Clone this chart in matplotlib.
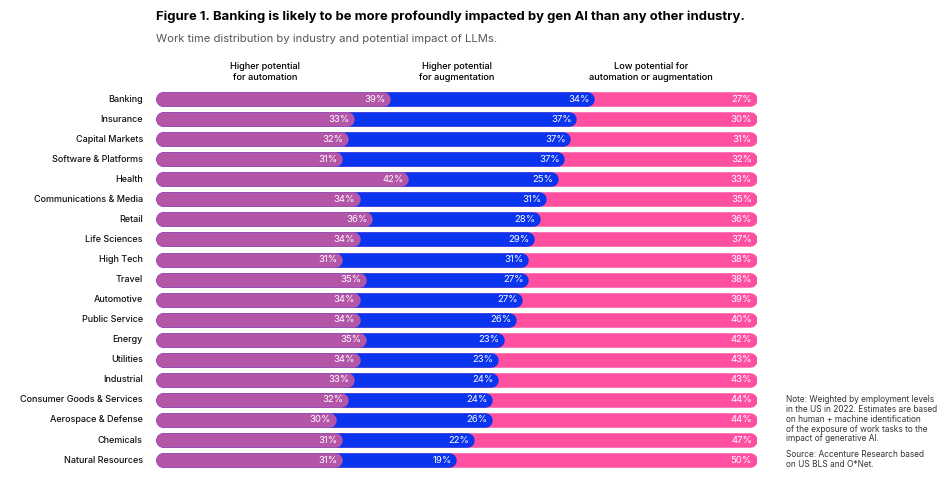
import matplotlib
matplotlib.use("Agg")
import matplotlib.pyplot as plt

plt.rcParams['font.family'] = ['Inter', 'DejaVu Sans']

industries = ["Banking", "Insurance", "Capital Markets", "Software & Platforms", "Health",
              "Communications & Media", "Retail", "Life Sciences", "High Tech", "Travel",
              "Automotive", "Public Service", "Energy", "Utilities", "Industrial",
              "Consumer Goods & Services", "Aerospace & Defense", "Chemicals", "Natural Resources"]
automation = [39, 33, 32, 31, 42, 34, 36, 34, 31, 35, 34, 34, 35, 34, 33, 32, 30, 31, 31]
augmentation = [34, 37, 37, 37, 25, 31, 28, 29, 31, 27, 27, 26, 23, 23, 24, 24, 26, 22, 19]
low_potential = [27, 30, 31, 32, 33, 35, 36, 37, 38, 38, 39, 40, 42, 43, 43, 44, 44, 47, 50]
headers = ["Higher potential\nfor automation", "Higher potential\nfor augmentation",
           "Low potential for\nautomation or augmentation"]

purple = "#B456A8"
blue = "#0A34EE"
pink = "#FF4FA0"

W, H = 944, 484
fig = plt.figure(figsize=(W / 100, H / 100), dpi=100)
x0_px, x1_px = 156, 757
top_px, step = 89, 20.06
n = len(industries)
ax = fig.add_axes([x0_px / W, (H - top_px - n * step) / H, (x1_px - x0_px) / W, n * step / H])
ax.set_xlim(0, 100)
ax.set_ylim(n - 0.5, -0.5)
ax.axis("off")

bar_px = 14.5
lw = bar_px * 72 / 100
r = (bar_px / 2) / (x1_px - x0_px) * 100  # cap radius in data units
pad = 5 / (x1_px - x0_px) * 100


def rbar(y, end, color, z):
    ax.plot([r, end - r], [y, y], color=color, lw=lw, solid_capstyle="round", zorder=z)


for i in range(n):
    a, b, c = automation[i], augmentation[i], low_potential[i]
    rbar(i, a + b + c, pink, 1)
    rbar(i, a + b, blue, 2)
    rbar(i, a, purple, 3)
    for end, v in [(a, a), (a + b, b), (a + b + c, c)]:
        ax.text(end - pad, i, f"{v}%", color="white", fontsize=6.9, ha="right", va="center",
                zorder=5)
    ax.text(-2.2, i, industries[i], fontsize=6.5, ha="right", va="center", fontweight="medium",
            color="#111111")

for xc, h in zip([18.2, 50.1, 82.4], headers):
    ax.text(xc, -0.85, h, fontsize=6.7, ha="center", va="bottom", fontweight="medium",
            linespacing=1.35, clip_on=False)

fig.text(156 / W, 1 - 17 / H,
         "Figure 1. Banking is likely to be more profoundly impacted by gen AI than any other industry.",
         fontsize=9.4, fontweight="bold", va="center", ha="left")
fig.text(156 / W, 1 - 39 / H, "Work time distribution by industry and potential impact of LLMs.",
         fontsize=8.1, color="#555555", va="center", ha="left")

fig.text(786 / W, 1 - 395 / H,
         "Note: Weighted by employment levels\nin the US in 2022. Estimates are based\n"
         "on human + machine identification\nof the exposure of work tasks to the\n"
         "impact of generative AI.",
         fontsize=6, color="#333333", va="top", ha="left", linespacing=1.12)
fig.text(786 / W, 1 - 450 / H, "Source: Accenture Research based\non US BLS and O*Net.",
         fontsize=6, color="#333333", va="top", ha="left", linespacing=1.12)

fig.savefig("out.png", dpi=100)
